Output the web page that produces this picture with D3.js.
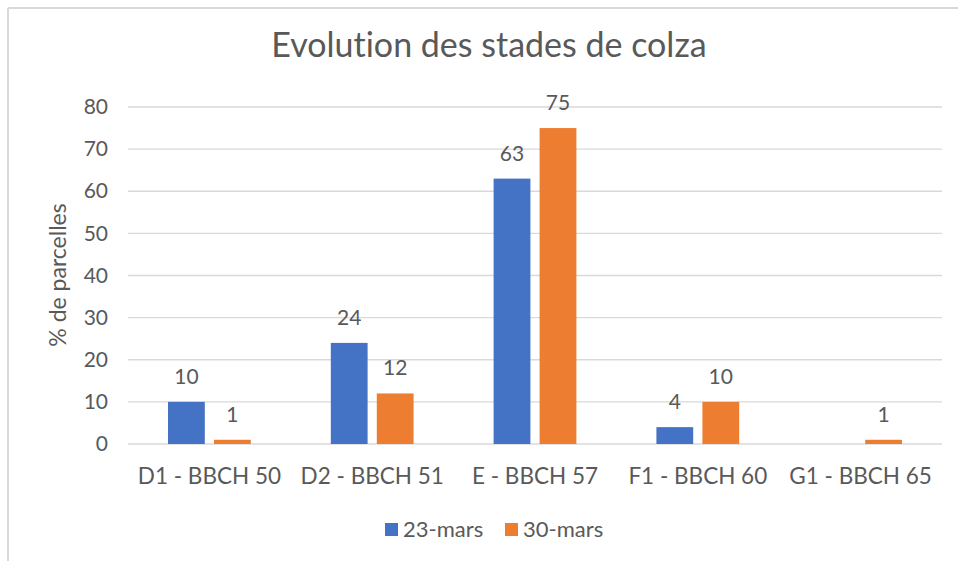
<!DOCTYPE html>
<html>
<head>
<meta charset="utf-8">
<script src="https://cdn.jsdelivr.net/npm/d3@7"></script>
<style>
  body { margin: 0; background: #fff; }
  text { font-family: Lato, "Open Sans", sans-serif; fill: #595959; font-variant-ligatures: none; }
</style>
</head>
<body>
<div id="chart"></div>
<script>
// data
var categories = ["D1 - BBCH 50", "D2 - BBCH 51", "E - BBCH 57", "F1 - BBCH 60", "G1 - BBCH 65"];
var seriesNames = ["23-mars", "30-mars"];
var mars23 = [10, 24, 63, 4, 0];
var mars30 = [1, 12, 75, 10, 1];
var yTicks = [0, 10, 20, 30, 40, 50, 60, 70, 80];
var colors = ["#4472C4", "#ED7D31"];

var W = 958, H = 561;
var margin = {top: 107, right: 16, bottom: 117, left: 128},
    width = W - margin.left - margin.right,
    height = H - margin.top - margin.bottom;

var svg = d3.select("#chart").append("svg")
    .attr("width", W)
    .attr("height", H);

// frame (only top and left visible in the shot)
svg.append("line").attr("x1", 8).attr("x2", W).attr("y1", 8).attr("y2", 8)
    .attr("stroke", "#d9d9d9").attr("stroke-width", 2);
svg.append("line").attr("x1", 8).attr("x2", 8).attr("y1", 8).attr("y2", H)
    .attr("stroke", "#d9d9d9").attr("stroke-width", 2);

var g = svg.append("g").attr("transform", "translate(" + margin.left + "," + margin.top + ")");

var x = d3.scaleBand().domain(categories).range([0, width]);
var x1 = d3.scaleBand().domain(seriesNames).range([0, x.bandwidth()])
    .paddingInner(0.2).paddingOuter(0.87);
var y = d3.scaleLinear().domain([0, 80]).range([height, 0]);

// gridlines
g.selectAll(".grid").data(yTicks).enter().append("line")
    .attr("x1", 0).attr("x2", width)
    .attr("y1", function(d) { return y(d); })
    .attr("y2", function(d) { return y(d); })
    .attr("stroke", "#d9d9d9").attr("stroke-width", 1.3);

// y axis
var yAxis = g.append("g")
    .call(d3.axisLeft(y).tickValues(yTicks).tickSize(0).tickPadding(20));
yAxis.select(".domain").remove();
yAxis.selectAll("text").style("font-size", "21px").attr("fill", "#595959");

// x axis
var xAxis = g.append("g")
    .attr("transform", "translate(0," + height + ")")
    .call(d3.axisBottom(x).tickSize(0).tickPadding(24));
xAxis.select(".domain").remove();
xAxis.selectAll("text").style("font-size", "22.5px").attr("fill", "#595959");

var rows = categories.map(function(c, i) {
  return {cat: c, values: [mars23[i], mars30[i]]};
});

var groups = g.selectAll(".cat").data(rows).enter().append("g")
    .attr("transform", function(d) { return "translate(" + x(d.cat) + ",0)"; });

groups.selectAll("rect")
    .data(function(d) { return d.values.map(function(v, j) { return {name: seriesNames[j], v: v, j: j}; }); })
    .enter().append("rect")
    .attr("x", function(d) { return x1(d.name); })
    .attr("width", x1.bandwidth())
    .attr("y", function(d) { return y(d.v); })
    .attr("height", function(d) { return height - y(d.v); })
    .attr("fill", function(d) { return colors[d.j]; });

groups.selectAll(".lbl")
    .data(function(d) { return d.values.map(function(v, j) { return {name: seriesNames[j], v: v, j: j}; }); })
    .enter().filter(function(d) { return d.v > 0; }).append("text")
    .attr("x", function(d) { return x1(d.name) + x1.bandwidth() / 2; })
    .attr("y", function(d) { return y(d.v) - 18; })
    .attr("text-anchor", "middle")
    .style("font-size", "21px")
    .text(function(d) { return d.v; });

// title
svg.append("text")
    .attr("x", margin.left + width / 2 - 46)
    .attr("y", 57)
    .attr("text-anchor", "middle")
    .style("font-size", "34px")
    .text("Evolution des stades de colza");

// y title
svg.append("text")
    .attr("transform", "translate(66," + 275 + ") rotate(-90)")
    .attr("text-anchor", "middle")
    .style("font-size", "23px")
    .text("% de parcelles");

// legend
var legend = svg.append("g").attr("transform", "translate(385,529)");
var lx = [0, 120];
seriesNames.forEach(function(s, i) {
  legend.append("rect").attr("x", lx[i]).attr("y", -6).attr("width", 13).attr("height", 13)
      .attr("fill", colors[i]);
  legend.append("text").attr("x", lx[i] + 18).attr("y", 8)
      .style("font-size", "22px").text(s);
});
</script>
</body>
</html>
